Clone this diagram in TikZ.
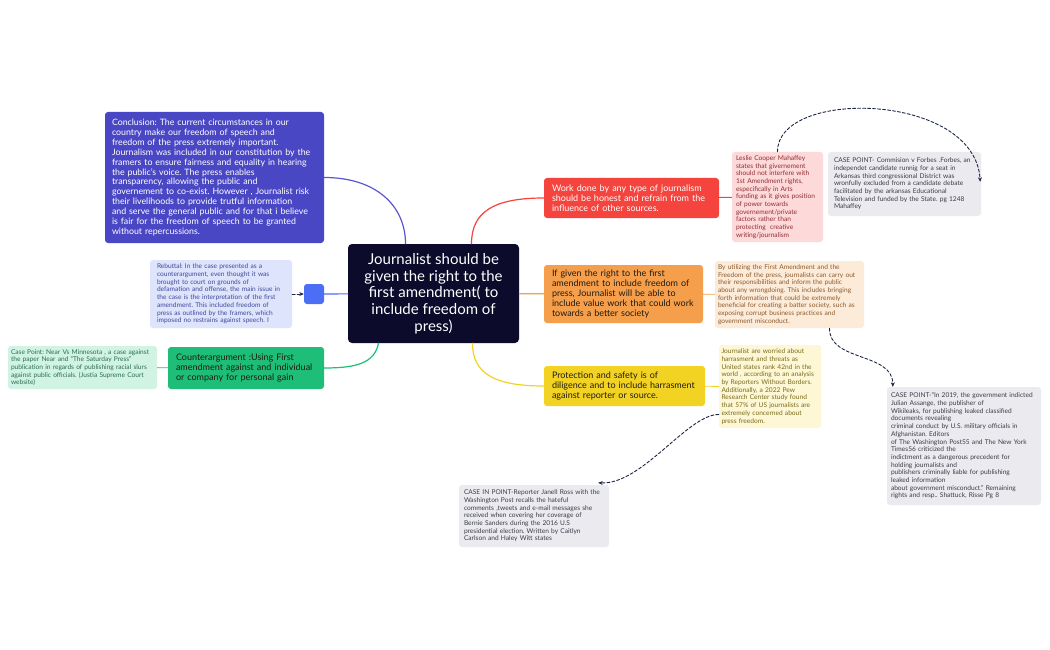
\documentclass[tikz,border=0pt]{standalone}
\usepackage{fontspec}
\setmainfont{Lato}
\usetikzlibrary{arrows.meta,calc}
\definecolor{midnight}{HTML}{0C0B2B}
\definecolor{conclblue}{HTML}{4A47C4}
\definecolor{purpleline}{HTML}{5B57D0}
\definecolor{rebutfill}{HTML}{DEE4FC}
\definecolor{rebutink}{HTML}{3C4A9A}
\definecolor{bluenode}{HTML}{4C6EF5}
\definecolor{greenmain}{HTML}{1EBE78}
\definecolor{greenlight}{HTML}{D0F3E4}
\definecolor{greenink}{HTML}{2D6E52}
\definecolor{redmain}{HTML}{F5443E}
\definecolor{redlight}{HTML}{FDD9DA}
\definecolor{redink}{HTML}{8F2E30}
\definecolor{orangemain}{HTML}{F59F4C}
\definecolor{orangelight}{HTML}{FDEBDA}
\definecolor{orangeink}{HTML}{8C5A2B}
\definecolor{yellowmain}{HTML}{F2D323}
\definecolor{yellowlight}{HTML}{FDF7D6}
\definecolor{yellowink}{HTML}{7A6A1C}
\definecolor{greybox}{HTML}{EBEBEF}
\definecolor{greyink}{HTML}{3B3B48}
\definecolor{darkink}{HTML}{1E1A10}
\definecolor{linkink}{HTML}{1C2545}

\begin{document}
\frenchspacing
\begin{tikzpicture}[x=1pt, y=-1pt, line cap=round,
  centre/.style={fill=midnight, text=white, rounded corners=4pt, align=center, inner sep=0pt, font=\fontsize{15}{16.7}\selectfont},
  mainbox/.style={rounded corners=3pt, align=left, inner sep=0pt, font=\fontsize{9}{10.2}\selectfont},
  notebox/.style={rounded corners=3pt, align=left, inner sep=0pt, font=\fontsize{6.6}{7.7}\selectfont},
  branch/.style={line width=1.2pt},
  twig/.style={line width=0.9pt},
  link/.style={linkink, line width=0.9pt, dash pattern=on 3pt off 2pt, -{Stealth[length=4.5pt, width=4pt]}}]
  \useasboundingbox (0,0) rectangle (1050,650);
  \fill[white] (0,0) rectangle (1050,650);

  % central topic
  \node[centre, minimum width=171pt, minimum height=99pt] (central) at (433.5,293.5)
    {Journalist should be\\given the right to the\\first amendment( to\\include freedom of\\press)};

  % left side
  \node[mainbox, fill=conclblue, text=white, minimum width=219pt, minimum height=131pt, text width=205pt, font=\fontsize{8.8}{9.9}\selectfont] (concl) at (214.5,177.5)
    {Conclusion: The current circumstances in our\\country make our freedom of speech and\\freedom of the press extremely important.\\Journalism was included in our constitution by the\\framers to ensure fairness and equality in hearing\\the public's voice. The press enables\\transparency, allowing the public and\\governement to co-exist. However , Journalist risk\\their livelihoods to provide trutful information\\and serve the general public and for that i believe\\is fair for the freedom of speech to be granted\\without repercussions.};
  \node[notebox, fill=rebutfill, text=rebutink, minimum width=142pt, minimum height=68pt, text width=128pt] (rebut) at (221,294)
    {Rebuttal: In the case presented as a\\counterargument, even thought it was\\brought to court on grounds of\\defamation and offense, the main issue in\\the case is the interpretation of the first\\amendment. This included freedom of\\press as outlined by the framers, which\\imposed no restrains against speech. I};
  \node[fill=bluenode, rounded corners=3pt, minimum size=20pt, inner sep=0pt] (blank) at (314,294) {};
  \node[mainbox, fill=greenmain, text=darkink, minimum width=156pt, minimum height=42pt, text width=140pt] (counter) at (246,368)
    {Counterargument :Using First\\amendment against and individual\\or company for personal gain};
  \node[notebox, fill=greenlight, text=greenink, minimum width=149pt, minimum height=43pt, text width=143pt] (nearcase) at (82.5,367.5)
    {Case Point: Near Vs Minnesota , a case against\\the paper Near and ``The Saturday Press''\\publication in regards of publishing racial slurs\\against public officials. (Justia Supreme Court\\website)};

  % right side
  \node[mainbox, fill=redmain, text=white, minimum width=175pt, minimum height=40pt, text width=159pt] (work) at (631.5,198)
    {Work done by any type of journalism\\should be honest and refrain from the\\influence of other sources.};
  \node[notebox, fill=redlight, text=redink, minimum width=91pt, minimum height=90pt, text width=83pt] (leslie) at (777.5,197)
    {Leslie Cooper Mahaffey\\states that givernement\\should not interfere with\\1st Amendment rights,\\especifically in Arts\\funding as it gives position\\of power towards\\governement/private\\factors rather than\\protecting\ \ creative\\writing/journalism};
  \node[notebox, fill=greybox, text=greyink, minimum width=153pt, minimum height=64pt, text width=141pt] (forbes) at (904.5,184)
    {CASE POINT- Commision v Forbes .Forbes, an\\independet candidate runnig for a seat in\\Arkansas third congressional District was\\wronfully excluded from a candidate debate\\facilitated by the arkansas Educational\\Television and funded by the State. pg 1248\\Mahaffey};
  \node[mainbox, fill=orangemain, text=darkink, minimum width=159pt, minimum height=58pt, text width=143pt] (given) at (623.5,294)
    {If given the right to the first\\amendment to include freedom of\\press, Journalist will be able to\\include value work that could work\\towards a better society};
  \node[notebox, fill=orangelight, text=orangeink, minimum width=149pt, minimum height=67pt, text width=143pt] (utiliz) at (789.5,294.5)
    {By utilizing the First Amendment and the\\Freedom of the press, journalists can carry out\\their responsibilities and inform the public\\about any wrongdoing. This includes bringing\\forth information that could be extremely\\beneficial for creating a batter society, such as\\exposing corrupt business practices and\\government misconduct.};
  \node[mainbox, fill=yellowmain, text=darkink, minimum width=161pt, minimum height=40pt, text width=145pt] (protect) at (624.5,386)
    {Protection and safety is of\\diligence and to include harrasment\\against reporter or source.};
  \node[notebox, fill=yellowlight, text=yellowink, minimum width=102pt, minimum height=83pt, text width=97pt] (worried) at (770,386.5)
    {Journalist are worried about\\harrasment and threats as\\United states rank 42nd in the\\world , according to an analysis\\by Reporters Without Borders.\\Additionally, a 2022 Pew\\Research Center study found\\that 57\% of US journalists are\\extremely concerned about\\press freedom.};
  \node[notebox, fill=greybox, text=greyink, minimum width=154pt, minimum height=118pt, text width=146pt] (assange) at (964,446)
    {CASE POINT-``In 2019, the government indicted\\Julian Assange, the publisher of\\Wikileaks, for publishing leaked classified\\documents revealing\\criminal conduct by U.S. military officials in\\Afghanistan. Editors\\of The Washington Post55 and The New York\\Times56 criticized the\\indictment as a dangerous precedent for\\holding journalists and\\publishers criminally liable for publishing\\leaked information\\about government misconduct.'' Remaining\\rights and resp.. Shattuck, Risse Pg 8};
  \node[notebox, fill=greybox, text=greyink, minimum width=150pt, minimum height=62pt, text width=140pt] (ross) at (534,516)
    {CASE IN POINT-Reporter Janell Ross with the\\Washington Post recalls the hateful\\comments ,tweets and e-mail messages she\\received when covering her coverage of\\Bernie Sanders during the 2016 U.S\\presidential election. Written by Caitlyn\\Carlson and Haley Witt states};

  % branches
  \draw[branch, purpleline] (concl.east) .. controls +(52,0) and +(0,-38) .. ([xshift=-28pt]central.north);
  \draw[branch, bluenode] (blank) -- (central);
  \draw[branch, greenmain] ([xshift=-55pt]central.south) .. controls +(-4,20) and +(32,0) .. (counter.east);
  \draw[branch, redmain] ([xshift=38pt]central.north) .. controls +(0,-32) and +(-50,0) .. (work.west);
  \draw[branch, orangemain] (central) -- (given);
  \draw[branch, yellowmain] ([xshift=39pt]central.south) .. controls +(0,30) and +(-50,0) .. (protect.west);
  \draw[twig, greenmain] (counter) -- (nearcase);
  \draw[twig, redmain] (work) -- (leslie);
  \draw[twig, orangemain] (given) -- (utiliz);
  \draw[twig, yellowmain] (protect) -- (worried);

  % dashed links
  \draw[link] (rebut.east) -- (blank.west);
  \draw[link] (leslie.north) .. controls (777,88) and (975,92) .. ([xshift=-1pt,yshift=-30pt]forbes.north east);
  \draw[link] ([xshift=40pt]utiliz.south) .. controls (829,362) and (893,352) .. ([xshift=6pt]assange.north west);
  \draw[link] ([yshift=-28pt]worried.west) .. controls (688,414) and (642,485) .. ([xshift=-11pt,yshift=2pt]ross.north east);
\end{tikzpicture}
\end{document}
